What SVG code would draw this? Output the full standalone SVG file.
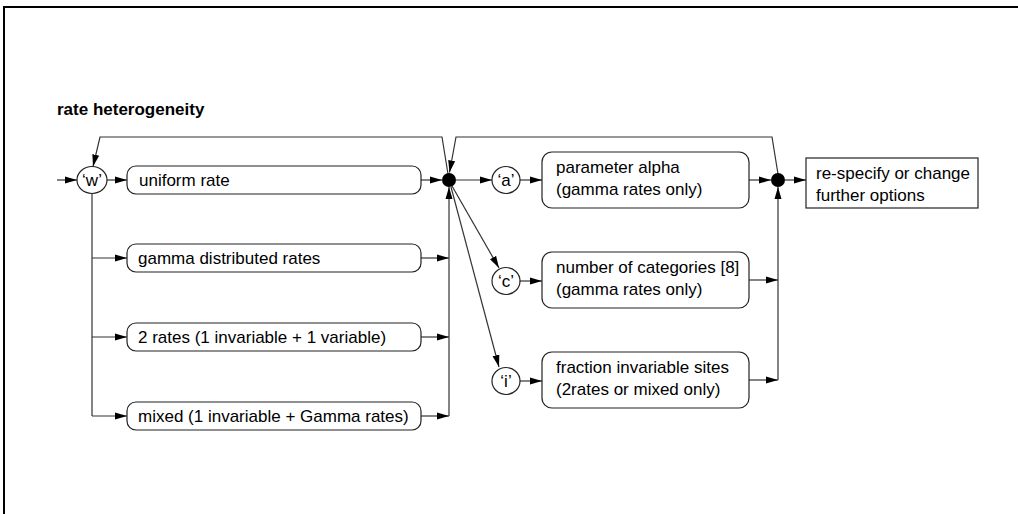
<svg xmlns="http://www.w3.org/2000/svg" width="1018" height="514" viewBox="0 0 1018 514">
<defs>
<marker id="ah" markerWidth="13" markerHeight="9" refX="12" refY="4.5" orient="auto" markerUnits="userSpaceOnUse">
<path d="M0,1 L12,4.5 L0,8 Z" fill="#000"/>
</marker>
<style>
text{font-family:"Liberation Sans",Arial,sans-serif;font-size:17px;fill:#000}
.t{font-weight:bold}
.c{text-anchor:middle}
.box{fill:#fff;stroke:#222;stroke-width:1.2}
.ln{fill:none;stroke:#333;stroke-width:1.2}
.arr{fill:none;stroke:#333;stroke-width:1.2;marker-end:url(#ah)}
.jn{fill:#000}
</style>
</defs>
<rect width="1018" height="514" fill="#fff"/>
<path d="M4,514 V7 H1018" fill="none" stroke="#000" stroke-width="2"/>
<text class="t" x="57" y="115">rate heterogeneity</text>

<g id="connectors">
<line class="arr" x1="57" y1="180" x2="77" y2="180"/>
<line class="arr" x1="107" y1="180" x2="127" y2="180"/>
<path class="ln" d="M92,193.5 V416"/>
<line class="arr" x1="92" y1="258" x2="127" y2="258"/>
<line class="arr" x1="92" y1="337" x2="127" y2="337"/>
<line class="arr" x1="92" y1="416" x2="127" y2="416"/>
<line class="arr" x1="421" y1="180" x2="442" y2="180"/>
<line class="arr" x1="421" y1="258" x2="449" y2="258"/>
<line class="arr" x1="421" y1="337" x2="449" y2="337"/>
<line class="arr" x1="421" y1="416" x2="449" y2="416"/>
<path class="arr" d="M449,416 V187"/>
<path class="arr" d="M448,174 L442,137 H100 L93,166.5"/>
<path class="arr" d="M778,174 L772,137 H456 L449.5,172.5"/>
<line class="arr" x1="456" y1="180" x2="492" y2="180"/>
<line class="arr" x1="520" y1="180" x2="542" y2="180"/>
<line class="arr" x1="452" y1="186" x2="499" y2="268"/>
<line class="arr" x1="451" y1="187" x2="499" y2="367"/>
<line class="arr" x1="520" y1="281" x2="542" y2="281"/>
<line class="arr" x1="520" y1="381" x2="542" y2="381"/>
<line class="arr" x1="749" y1="180" x2="771" y2="180"/>
<line class="arr" x1="749" y1="280" x2="778" y2="280"/>
<line class="arr" x1="749" y1="380" x2="778" y2="380"/>
<path class="arr" d="M778,380 V187"/>
<line class="arr" x1="785" y1="180" x2="806" y2="180"/>
</g>

<g id="node-w"><ellipse class="box" cx="92" cy="180" rx="15" ry="13.5"/><text class="c" x="92" y="186">‘w’</text></g>
<g id="node-uniform"><rect class="box" x="127" y="166" width="294" height="28" rx="9"/><text x="139" y="186">uniform rate</text></g>
<g id="node-gamma"><rect class="box" x="127" y="244" width="294" height="28" rx="9"/><text x="138" y="264">gamma distributed rates</text></g>
<g id="node-2rates"><rect class="box" x="127" y="323" width="294" height="28" rx="9"/><text x="138" y="343">2 rates (1 invariable + 1 variable)</text></g>
<g id="node-mixed"><rect class="box" x="127" y="402" width="294" height="28" rx="9"/><text x="138" y="422">mixed (1 invariable + Gamma rates)</text></g>
<g id="junction1"><circle class="jn" cx="449" cy="180" r="7"/></g>
<g id="node-a"><ellipse class="box" cx="506" cy="180" rx="14" ry="13.5"/><text class="c" x="506" y="186">‘a’</text></g>
<g id="node-c"><ellipse class="box" cx="506" cy="281" rx="14" ry="13.5"/><text class="c" x="506" y="287">‘c’</text></g>
<g id="node-i"><ellipse class="box" cx="506" cy="381" rx="14" ry="13.5"/><text class="c" x="506" y="387">‘i’</text></g>
<g id="node-alpha"><rect class="box" x="542" y="152" width="207" height="56" rx="10"/><text x="556" y="173">parameter alpha</text><text x="556" y="195">(gamma rates only)</text></g>
<g id="node-categories"><rect class="box" x="542" y="252" width="207" height="56" rx="10"/><text x="556" y="273">number of categories [8]</text><text x="556" y="295">(gamma rates only)</text></g>
<g id="node-fraction"><rect class="box" x="542" y="352" width="207" height="56" rx="10"/><text x="556" y="373">fraction invariable sites</text><text x="556" y="395">(2rates or mixed only)</text></g>
<g id="junction2"><circle class="jn" cx="778" cy="180" r="7"/></g>
<g id="node-respecify"><rect class="box" x="806" y="158" width="172" height="50"/><text x="816" y="179">re-specify or change</text><text x="816" y="201">further options</text></g>
</svg>
